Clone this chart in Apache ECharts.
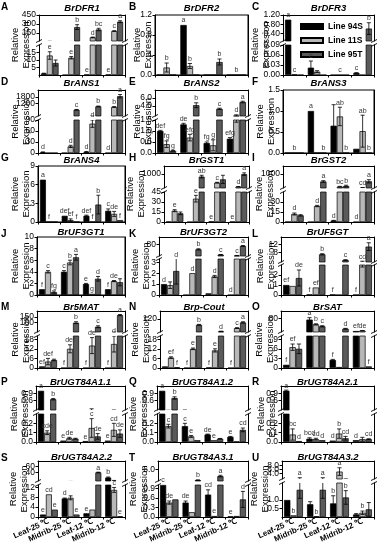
<!DOCTYPE html>
<html><head><meta charset="utf-8">
<script src="https://cdn.jsdelivr.net/npm/echarts@6/dist/echarts.min.js"></script>
<style>html,body{margin:0;padding:0;background:#fff}#c{width:378px;height:550px}</style>
</head><body><div id="c"></div>
<script>
// ---------------- DATA ----------------
const categories = ['Leaf-25 ℃', 'Midrib-25 ℃', 'Leaf-12 ℃', 'Midrib-12 ℃'];
const seriesNames = ['Line 94S', 'Line 11S', 'Line 95T'];

// each: [94S, 11S, 95T] x 4 groups ; ticks: [lower, upper]
const dfr1Mean = [[1,0,0.3,0.3],[13,11.5,80,185],[8,250,210,340]];
const dfr1Err  = [[0.2,0,0,0],[2.5,0.8,5,5],[2,40,20,15]];
const dfr1Sig  = [['','','e','e'],['e','e','d','c'],['','b','bc','a']];
const dfr1Ticks = [[0,5,10,15,20],[150,300,450]];

const dfr2Mean = [[0,1,0,0],[0.15,0.18,0,0],[0,0,0.26,0]];
const dfr2Err  = [[0,0,0,0],[0.09,0.05,0,0],[0,0,0.06,0]];
const dfr2Sig  = [['','a','',''],['b','b','','b'],['','','b','']];
const dfr2Ticks = [[0,0.4,0.8,1.2]];

const dfr3Mean = [[1,0.022,0,0.006],[0.002,0.01,0,0],[0,0,0,0.62]];
const dfr3Err  = [[0,0.02,0,0.001],[0,0.003,0,0],[0,0,0,0.25]];
const dfr3Sig  = [['a','c','','c'],['c','','c',''],['','','','b']];
const dfr3Ticks = [[0,0.03,0.06,0.09],[0.4,0.8,1.2]];

const ans1Mean = [[2,0,3,0],[0,18,80,900],[0,650,950,1850]];
const ans1Err  = [[1,0,1,0],[0,3,10,30],[0,30,30,150]];
const ans1Sig  = [['d','','d','d'],['','d','d','b'],['','c','b','a']];
const ans1Ticks = [[0,30,60,90],[600,1200,1800,2400]];

const ans2Mean = [[1.0,1.3,0.45,0.65],[0.4,0.7,0.35,1.6],[0.1,4.2,3.3,5.0]];
const ans2Err  = [[0.03,0.05,0.05,0.05],[0.15,0.15,0.25,0.2],[0.02,0.6,0.15,0.2]];
const ans2Sig  = [['def','de','fg','efg'],['fg','efg','g','d'],['g','b','c','a']];
const ans2Ticks = [[0,0.5,1.0,1.5],[2,4,6,8]];

const ans3Mean = [[0,1.0,0.65,0.1],[0,0,0.87,0.52],[0,0,0,0]];
const ans3Err  = [[0,0,0.5,0],[0,0,0.22,0.38],[0,0,0,0]];
const ans3Sig  = [['','a','',''],['b','','ab','ab'],['','b','b','b']];
const ans3Ticks = [[0,0.5,1.0,1.5]];

const ans4Mean = [[6.8,1.0,1.0,1.8],[0,0.3,0,1.3],[0,0,2.8,0.3]];
const ans4Err  = [[0,0,0.1,0.3],[0,0.2,0,0.4],[0,0,1.5,0]];
const ans4Sig  = [['a','def','def','c'],['f','ef','f','de'],['','f','b','f']];
const ans4Ticks = [[0,3,6,9]];

const gst1Mean = [[0.5,0,1,0.5],[17,35,480,230],[13,850,680,1000]];
const gst1Err  = [[0,0,0,0],[1.5,5,20,10],[2,80,250,80]];
const gst1Sig  = [['','','e','e'],['e','e','c','d'],['','ab','','a']];
const gst1Ticks = [[0,15,30,45],[500,1000,1500]];

const gst2Mean = [[0.3,0,2,0],[12,24,230,170],[10,550,270,560]];
const gst2Err  = [[0,0,0.5,0],[1.5,1,20,10],[1,50,50,100]];
const gst2Sig  = [['','','d','d'],['d','d','bc','cd'],['','a','b','a']];
const gst2Ticks = [[0,15,30],[500,1000,1500]];

const uf3gt1Mean = [[1.0,4.0,1.9,1.0],[4.0,5.6,0.2,2.4],[0.5,6.5,2.8,2.2]];
const uf3gt1Err  = [[0,0.2,0.1,0],[0.2,0.4,0,0.1],[0.2,0.5,0.4,0.6]];
const uf3gt1Sig  = [['f','c','e','f'],['c','b','g','de'],['fg','a','d','']];
const uf3gt1Ticks = [[0,2,4,6,8,10]];

const uf3gt2Mean = [[1.0,0,0.15,0],[0.9,2.0,1.7,22],[2.2,55,27,73]];
const uf3gt2Err  = [[0,0,0,0],[0.3,0,0.1,1],[1.2,3,1,2]];
const uf3gt2Sig  = [['d','','','d'],['','d','d','c'],['d','b','c','a']];
const uf3gt2Ticks = [[0,1,2,3],[40,80,120]];

const uf5gtMean = [[1.0,0.05,0.05,0.02],[0.9,0.75,0,3.1],[1.7,7,4.0,11]];
const uf5gtErr  = [[0,0,0,0],[0,0,0,0.3],[0.8,0.3,0.2,2]];
const uf5gtSig  = [['ef','f','f','f'],['','ef','','cd'],['de','b','c','a']];
const uf5gtTicks = [[0,1,2],[4,8,12,16]];

const mat5Mean = [[1,0,0,0],[4,12,14,15],[5,100,65,165]];
const mat5Err  = [[0,0,0,0],[2,2.5,5,5],[0.5,8,8,5]];
const mat5Sig  = [['ef','f','f','f'],['def','def','de','d'],['','b','c','a']];
const mat5Ticks = [[0,6,12,18],[50,100,150,200]];

const coutMean = [[1,0,0.3,0],[6.5,12,11,50],[0.5,75,25,93]];
const coutErr  = [[0,0,0,0],[0.5,0.5,1,3],[0,3,1,5]];
const coutSig  = [['','f','f','f'],['ef','e','e','c'],['f','b','d','a']];
const coutTicks = [[0,6,12,18],[60,120,180]];

const satMean = [[1,75,2.5,15],[6.5,50,0.3,17],[6,40,27,0.5]];
const satErr  = [[0,10,0.2,0],[1,3,0,1],[1.5,3,2,0]];
const satSig  = [['f','a','f','ef'],['ef','b','','de'],['','c','d','f']];
const satTicks = [[0,3,6,9],[40,80,120]];

const a11Mean = [[1.0,0.015,0.01,0.015],[0.1,0.04,0.15,0.13],[0.65,0.035,0.06,0.09]];
const a11Err  = [[0,0,0,0],[0.02,0.01,0.1,0.07],[0.03,0.005,0.03,0.04]];
const a11Sig  = [['a','e','e','e'],['cde','de','c','cd'],['b','','de','de']];
const a11Ticks = [[0,0.1,0.2],[0.3,0.6,0.9,1.2]];

const a12Mean = [[1.0,0.17,0.08,0.055],[0.17,0.06,0.02,0.005],[0.7,0.02,0.035,0.13]];
const a12Err  = [[0,0.03,0.005,0.005],[0.02,0.01,0,0],[0.05,0,0.003,0.02]];
const a12Sig  = [['a','c','de','e'],['c','e','e',''],['b','','','cd']];
const a12Ticks = [[0,0.1,0.2],[0.3,0.6,0.9,1.2]];

const a21Mean = [[1.0,0.035,0.015,0.02],[0.08,0.03,0.09,0.03],[0.01,0.02,0.04,0.03]];
const a21Err  = [[0.03,0.01,0,0],[0.06,0.01,0.05,0.02],[0,0,0.02,0.005]];
const a21Sig  = [['a','bcd','d','d'],['bc','cd','b',''],['d','d','cd','cd']];
const a21Ticks = [[0,0.1,0.2],[0.3,0.6,0.9,1.2]];

const a22Mean = [[1,7.5,1.5,22],[9.2,7.8,3,11],[3,1,40,0.3]];
const a22Err  = [[0,0.2,0,2],[0,0.8,0,1],[0,0,1,0]];
const a22Sig  = [['e','d','e','b'],['cd','','','c'],['e','e','a','e']];
const a22Ticks = [[0,4,8,12],[20,40,60,80]];

const a31Mean = [[1.0,0.45,0.7,0.02],[0.45,0.15,0.03,0.03],[0.55,2.3,3.7,0.55]];
const a31Err  = [[0,0.05,0.15,0],[0.05,0,0,0],[0,0.1,0.3,0.25]];
const a31Sig  = [['c','de','cd','e'],['de','','e',''],['','b','a','d']];
const a31Ticks = [[0,0.3,0.6,0.9],[3,6,9]];

const a32Mean = [[1.0,0.75,0.8,0.15],[0.1,0.05,5.0,0.25],[1.6,1.6,1.15,0.45]];
const a32Err  = [[0,0.15,0.45,0.05],[0,0,1.8,0.1],[0.5,0.5,0.4,0.4]];
const a32Sig  = [['','','b',''],['b','b','a','b'],['a','a','b','']];
const a32Ticks = [[0,0.5,1.0,1.5],[2,4,6,8,10]];

// ---------------- LAYOUT / STYLE ----------------
const FONT = '"Liberation Sans", Arial, Helvetica, sans-serif';
const barColors = ['#000000', '#b8b8b8', '#5a5a5a'];
const GAP = 0.18;
const panels = [
 {id:'A',title:'BrDFR1',mean:dfr1Mean,err:dfr1Err,sig:dfr1Sig,ticks:dfr1Ticks,l:39,r:125,t:15,b:75,dec:0,ub:41,lt:45,lo:[0,20],up:[20,450],nx:21,row:0,col:0},
 {id:'B',title:'BrDFR2',mean:dfr2Mean,err:dfr2Err,sig:dfr2Sig,ticks:dfr2Ticks,l:155,r:248,t:15,b:75,dec:1,lo:[0,1.2],nx:143,row:0,col:1},
 {id:'C',title:'BrDFR3',mean:dfr3Mean,err:dfr3Err,sig:dfr3Sig,ticks:dfr3Ticks,l:283,r:374,t:15,b:75,dec:2,ub:41,lt:45,lo:[0,0.09],up:[0.09,1.2],nx:261,row:0,col:2},
 {id:'D',title:'BrANS1',mean:ans1Mean,err:ans1Err,sig:ans1Sig,ticks:ans1Ticks,l:38,r:125,t:90,b:153,dec:0,ub:116,lt:120,lo:[0,90],up:[100,2400],nx:21,row:1,col:0},
 {id:'E',title:'BrANS2',mean:ans2Mean,err:ans2Err,sig:ans2Sig,ticks:ans2Ticks,l:155,r:248,t:90,b:153,dec:1,ub:116,lt:120,lo:[0,1.5],up:[1.5,8],nx:143,row:1,col:1},
 {id:'F',title:'BrANS3',mean:ans3Mean,err:ans3Err,sig:ans3Sig,ticks:ans3Ticks,l:283,r:374,t:90,b:153,dec:1,lo:[0,1.5],nx:266,row:1,col:2},
 {id:'G',title:'BrANS4',mean:ans4Mean,err:ans4Err,sig:ans4Sig,ticks:ans4Ticks,l:38,r:125,t:166,b:222,dec:0,lo:[0,9],nx:21,row:2,col:0},
 {id:'H',title:'BrGST1',mean:gst1Mean,err:gst1Err,sig:gst1Sig,ticks:gst1Ticks,l:164,r:249,t:166,b:222,dec:0,ub:188,lt:192,lo:[0,45],up:[150,1500],nx:136,row:2,col:1},
 {id:'I',title:'BrGST2',mean:gst2Mean,err:gst2Err,sig:gst2Sig,ticks:gst2Ticks,l:283,r:374,t:166,b:222,dec:0,ub:188,lt:192,lo:[0,45],up:[150,1500],nx:265,row:2,col:2},
 {id:'J',title:'BrUF3GT1',mean:uf3gt1Mean,err:uf3gt1Err,sig:uf3gt1Sig,ticks:uf3gt1Ticks,l:37,r:125,t:237,b:295,dec:0,lo:[0,10],nx:21,row:3,col:0},
 {id:'K',title:'BrUF3GT2',mean:uf3gt2Mean,err:uf3gt2Err,sig:uf3gt2Sig,ticks:uf3gt2Ticks,l:159,r:248,t:237,b:295,dec:0,ub:256,lt:259,lo:[0,3.3],up:[20,120],nx:141,row:3,col:1},
 {id:'L',title:'BrUF5GT',mean:uf5gtMean,err:uf5gtErr,sig:uf5gtSig,ticks:uf5gtTicks,l:281,r:374,t:237,b:295,dec:0,ub:262,lt:265,lo:[0,3],up:[3,16],nx:266,row:3,col:2},
 {id:'M',title:'Br5MAT',mean:mat5Mean,err:mat5Err,sig:mat5Sig,ticks:mat5Ticks,l:37,r:125,t:311,b:368,dec:0,ub:332,lt:336,lo:[0,20],up:[20,200],nx:21,row:4,col:0},
 {id:'N',title:'Brp-Cout',mean:coutMean,err:coutErr,sig:coutSig,ticks:coutTicks,l:160,r:248,t:311,b:368,dec:0,ub:332,lt:336,lo:[0,20],up:[20,180],nx:141,row:4,col:1},
 {id:'O',title:'BrSAT',mean:satMean,err:satErr,sig:satSig,ticks:satTicks,l:281,r:374,t:311,b:368,dec:0,ub:332,lt:336,lo:[0,10],up:[10,120],nx:265,row:4,col:2},
 {id:'P',title:'BrUGT84A1.1',mean:a11Mean,err:a11Err,sig:a11Sig,ticks:a11Ticks,l:36,r:125,t:386,b:442,dec:1,ub:410,lt:414,lo:[0,0.3],up:[0.2,1.2],nx:20,row:5,col:0},
 {id:'Q',title:'BrUGT84A1.2',mean:a12Mean,err:a12Err,sig:a12Sig,ticks:a12Ticks,l:157,r:248,t:386,b:442,dec:1,ub:410,lt:414,lo:[0,0.3],up:[0.2,1.2],nx:139,row:5,col:1},
 {id:'R',title:'BrUGT84A2.1',mean:a21Mean,err:a21Err,sig:a21Sig,ticks:a21Ticks,l:281,r:374,t:386,b:442,dec:1,ub:410,lt:414,lo:[0,0.3],up:[0.2,1.2],nx:267,row:5,col:2},
 {id:'S',title:'BrUGT84A2.2',mean:a22Mean,err:a22Err,sig:a22Sig,ticks:a22Ticks,l:38,r:125,t:461,b:517,dec:0,ub:481,lt:485,lo:[0,13],up:[10,80],nx:19,row:6,col:0,xl:true},
 {id:'T',title:'BrUGT84A3.1',mean:a31Mean,err:a31Err,sig:a31Sig,ticks:a31Ticks,l:158,r:248,t:461,b:517,dec:1,ub:481,lt:485,lo:[0,1.0],up:[2,9],nx:139,row:6,col:1,xl:true},
 {id:'U',title:'BrUGT84A3.2',mean:a32Mean,err:a32Err,sig:a32Sig,ticks:a32Ticks,l:282,r:374,t:461,b:517,dec:1,ub:479,lt:483,lo:[0,2],up:[1.5,10],nx:260,row:6,col:2,xl:true}
];
const titleY = [8, 83, 160, 232, 307, 382, 457];
const letterY = [7, 82, 158, 234, 307, 382, 458];
const letterX = [1, 129, 252];

const grids = [], xAxes = [], yAxes = [], series = [], graphics = [];

function errRender(params, api) {
  const cat = api.value(0), k = api.value(1), m = api.value(2), e = api.value(3);
  if (!e) return null;
  const bw = api.size([1, 0])[0];
  const barW = bw * (1 - GAP) / 3;
  const x = api.coord([cat, m])[0] + (k - 1) * barW;
  const yT = api.coord([cat, m + e])[1];
  const yB = api.coord([cat, Math.max(m - e, 0)])[1];
  const cap = Math.max(1.6, barW * 0.33);
  const st = {stroke: '#000', lineWidth: 0.8};
  return {type: 'group', children: [
    {type: 'line', shape: {x1: x, y1: yB, x2: x, y2: yT}, style: st},
    {type: 'line', shape: {x1: x - cap, y1: yT, x2: x + cap, y2: yT}, style: st},
    {type: 'line', shape: {x1: x - cap, y1: yB, x2: x + cap, y2: yB}, style: st}
  ]};
}
function sigRender(params, api) {
  const cat = api.value(0), k = api.value(1), m = api.value(2), e = api.value(3);
  const txt = api.value(4);
  const bw = api.size([1, 0])[0];
  const barW = bw * (1 - GAP) / 3;
  const x = api.coord([cat, m])[0] + (k - 1) * barW;
  const y = api.coord([cat, m + e])[1] - 1;
  return {type: 'text', x: x, y: y, style: {text: String(txt), align: 'center', verticalAlign: 'bottom',
    textAlign: 'center', textVerticalAlign: 'bottom', fontSize: 7, fontFamily: FONT, fill: '#333'}};
}

panels.forEach(p => {
  const broken = p.ub !== undefined;
  const segs = broken ? [
    {kind: 'upper', top: p.t, bottom: p.ub, range: p.up, ticks: p.ticks[1]},
    {kind: 'lower', top: p.lt, bottom: p.b, range: p.lo, ticks: p.ticks[0]}
  ] : [{kind: 'single', top: p.t, bottom: p.b, range: p.lo, ticks: p.ticks[0]}];

  segs.forEach(s => {
    const gi = grids.length;
    grids.push({left: p.l, top: s.top, width: p.r - p.l, height: s.bottom - s.top,
      show: s.kind === 'single', borderColor: '#000', borderWidth: 1, backgroundColor: 'transparent',
      containLabel: false, outerBoundsMode: 'none'});
    xAxes.push({gridIndex: gi, type: 'category', data: categories, position: s.kind === 'upper' ? 'top' : 'bottom',
      axisLine: {show: true, onZero: false, lineStyle: {color: '#000', width: 1}},
      axisTick: {show: s.kind !== 'upper', interval: 0, length: 2.5, lineStyle: {color: '#000', width: 1}},
      axisLabel: {show: !!p.xl && s.kind !== 'upper', interval: 0, rotate: 24, margin: 4, fontSize: 8,
        fontWeight: 'bold', fontFamily: FONT, color: '#000'},
      splitLine: {show: false}});
    const yi = yAxes.length;
    yAxes.push({gridIndex: gi, type: 'value', min: s.range[0], max: s.range[1], position: 'left',
      axisLine: {show: true, onZero: false, lineStyle: {color: '#000', width: 1}},
      axisTick: {show: true, length: 2.5, customValues: s.ticks, lineStyle: {color: '#000'}},
      axisLabel: {show: true, customValues: s.ticks, formatter: v => Number(v).toFixed(p.dec), margin: 3,
        fontSize: 8.5, fontFamily: FONT, color: '#000'},
      splitLine: {show: false}});
    yAxes.push({gridIndex: gi, type: 'value', min: s.range[0], max: s.range[1], position: 'right',
      axisLine: {show: true, onZero: false, lineStyle: {color: '#000', width: 1}},
      axisTick: {show: false}, axisLabel: {show: false}, splitLine: {show: false}});

    for (let k = 0; k < 3; k++) {
      series.push({type: 'bar', name: seriesNames[k], xAxisIndex: gi, yAxisIndex: yi,
        data: p.mean[k].map(v => (s.kind === 'upper' && v <= s.range[0]) ? '-' : v),
        itemStyle: {color: barColors[k], borderColor: '#000', borderWidth: 0.7},
        barGap: '0%', barCategoryGap: (GAP * 100) + '%', clip: true, silent: true});
    }
    const items = [];
    const sigItems = [];
    for (let k = 0; k < 3; k++) for (let c = 0; c < 4; c++) {
      const m = p.mean[k][c], e = p.err[k][c], sg = p.sig[k][c];
      if (e > 0) items.push([c, k, m, e]);
      if (sg) {
        const top = m + e;
        const inUpper = broken && top > p.lo[1];
        if ((s.kind === 'upper' && inUpper) || (s.kind !== 'upper' && !inUpper)) sigItems.push([c, k, m, e, sg]);
      }
    }
    series.push({type: 'custom', xAxisIndex: gi, yAxisIndex: yi, clip: true, silent: true,
      data: items, encode: {x: 0, y: 2}, renderItem: errRender, z: 3});
    series.push({type: 'custom', xAxisIndex: gi, yAxisIndex: yi, clip: false, silent: true,
      data: sigItems, encode: {x: 0, y: 2}, renderItem: sigRender, z: 4});
  });

  graphics.push({type: 'text', x: (p.l + p.r) / 2, y: titleY[p.row], style: {text: p.title, align: 'center',
    verticalAlign: 'middle', textAlign: 'center', textVerticalAlign: 'middle', fontSize: 9.5, fontWeight: 'bold', fontStyle: 'italic', fontFamily: FONT, fill: '#000'}});
  graphics.push({type: 'text', x: letterX[p.col], y: letterY[p.row], style: {text: p.id, align: 'left',
    verticalAlign: 'middle', textAlign: 'left', textVerticalAlign: 'middle', fontSize: 10, fontWeight: 'bold', fontFamily: FONT, fill: '#000'}});
  graphics.push({type: 'text', x: p.nx, y: (p.t + p.b) / 2, rotation: Math.PI / 2, style: {text: 'Relative\nExpression',
    align: 'center', verticalAlign: 'middle', textAlign: 'center', textVerticalAlign: 'middle', fontSize: 9.5, lineHeight: 11, fontFamily: FONT, fill: '#000'}});
  if (broken) {
    [p.l, p.r].forEach(x => {
      [p.ub, p.lt].forEach(y => {
        graphics.push({type: 'line', shape: {x1: x - 3, y1: y + 1.5, x2: x + 3, y2: y - 1.5}, style: {stroke: '#000', lineWidth: 0.9}});
      });
    });
  }
});

const chart = echarts.init(document.getElementById('c'), null, {renderer: 'canvas'});
chart.setOption({
  animation: false,
  backgroundColor: '#fff',
  textStyle: {fontFamily: FONT},
  grid: grids, xAxis: xAxes, yAxis: yAxes, series: series,
  legend: {data: seriesNames, orient: 'vertical', left: 300, top: 22, padding: 0, itemWidth: 22, itemHeight: 5, itemGap: 5,
    icon: 'rect', textStyle: {fontSize: 8.5, fontWeight: 'bold', fontFamily: FONT, color: '#000'}, selectedMode: false},
  graphic: graphics
});
</script></body></html>
